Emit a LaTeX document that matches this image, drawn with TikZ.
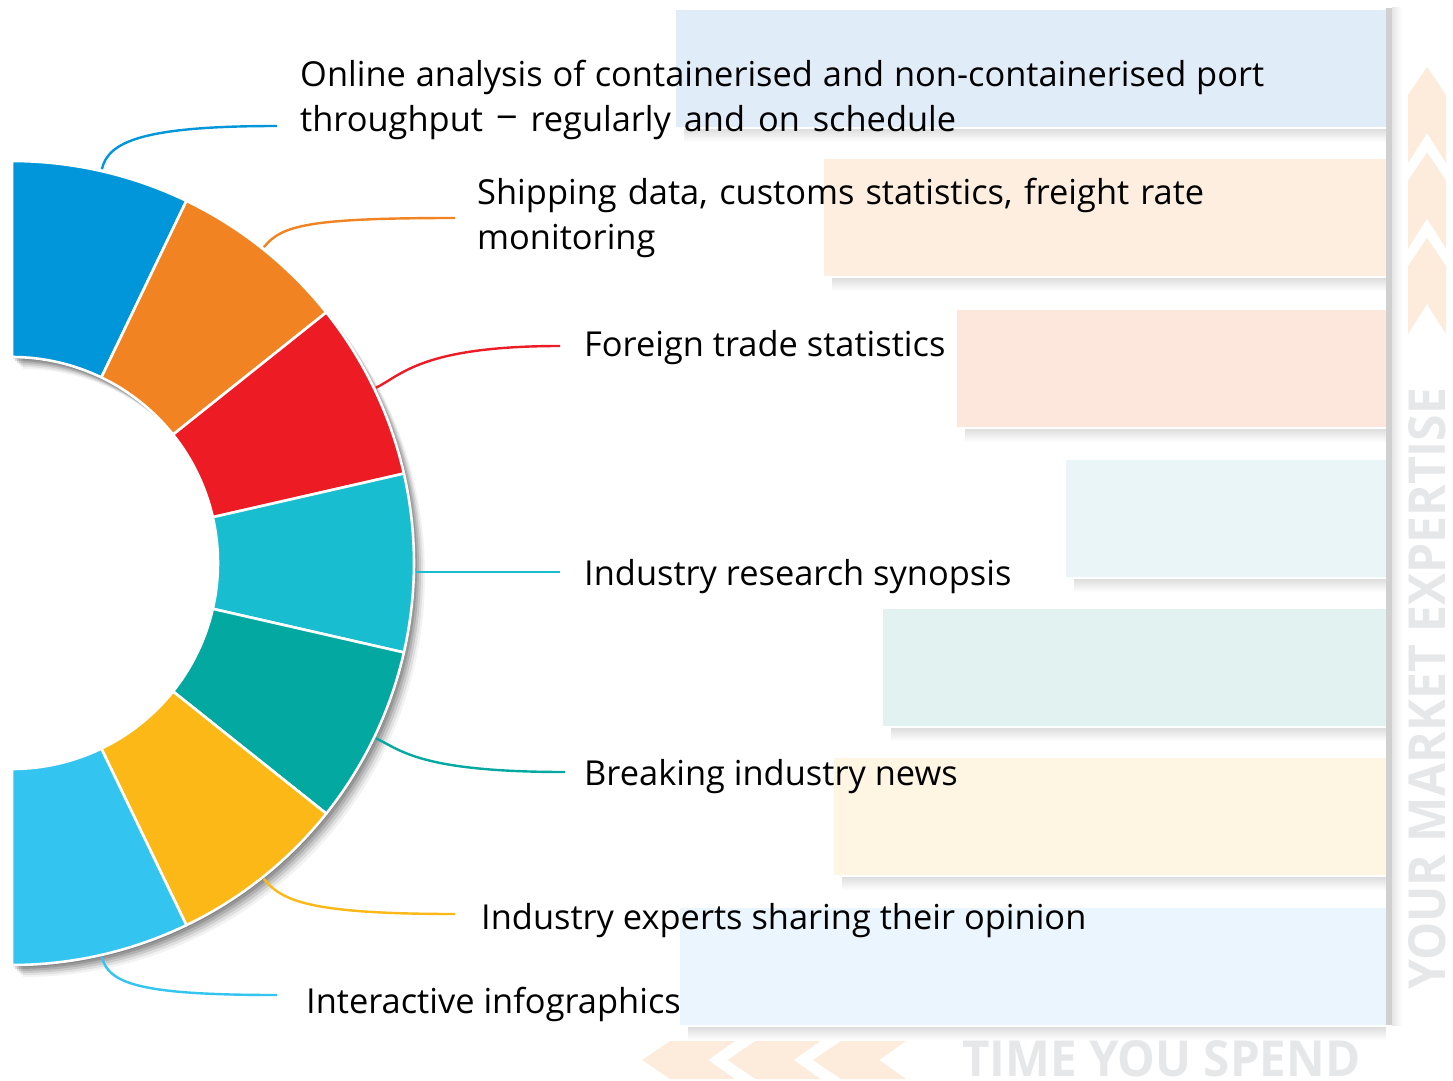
\documentclass[tikz,border=0pt]{standalone}
\usepackage{fontspec}
\setmainfont{Open Sans}
\usetikzlibrary{calc}
\definecolor{cA}{HTML}{0096D9}
\definecolor{cB}{HTML}{F28322}
\definecolor{cC}{HTML}{ED1C24}
\definecolor{cD}{HTML}{18BECF}
\definecolor{cE}{HTML}{03A9A1}
\definecolor{cF}{HTML}{FBB817}
\definecolor{cG}{HTML}{33C4F0}
\definecolor{bA}{HTML}{E0ECF8}
\definecolor{bB}{HTML}{FDEEE0}
\definecolor{bC}{HTML}{FDE7DD}
\definecolor{bD}{HTML}{E9F5F6}
\definecolor{bE}{HTML}{E2F2F1}
\definecolor{bF}{HTML}{FEF5E3}
\definecolor{bG}{HTML}{EAF5FD}
\definecolor{chev}{HTML}{FDECDC}
\definecolor{ghost}{HTML}{E6E7E8}
\definecolor{rail}{HTML}{D0D0D0}
\newcommand\hbarbox[3]{%
  \shade[top color=black!13, bottom color=white] (#1+8,#2+119) rectangle (1386,#2+132);
  \fill[#3] (#1,#2) rectangle (1386,#2+117);
}
\newcommand\upchev[1]{%
  \fill[chev] (1427,#1) -- (1446,#1+28) -- (1446,#1+96) -- (1427,#1+66) -- (1408,#1+96) -- (1408,#1+28) -- cycle;
}
\newcommand\leftchev[1]{%
  \fill[chev] (#1,1060) -- (#1+28,1041) -- (#1+93,1041) -- (#1+66,1060) -- (#1+93,1079) -- (#1+28,1079) -- cycle;
}
\tikzset{
  lbl/.style={anchor=base west, inner sep=0pt, font=\fontsize{34.4}{40}\selectfont, text=black},
  conn/.style={line width=2.4pt},
  seg/.style={draw=white, line width=2.6pt, line join=round}
}
\begin{document}
\begin{tikzpicture}[x=1pt,y=-1pt]
\useasboundingbox (0,0) rectangle (1453,1081);
\fill[white] (0,0) rectangle (1453,1081);
% background bars
\hbarbox{676}{10}{bA}
\hbarbox{824}{159}{bB}
\hbarbox{957}{310}{bC}
\hbarbox{1066}{460}{bD}
\hbarbox{883}{609}{bE}
\hbarbox{834}{758}{bF}
\hbarbox{680}{908}{bG}
\shade[left color=black!10, right color=white] (1392,8) rectangle (1402,1025);
\fill[rail] (1386,8) rectangle (1392,1025);
% chevrons
\upchev{67}
\upchev{152.5}
\upchev{238}
\leftchev{642}
\leftchev{727.5}
\leftchev{813}
% ghost texts
\node[anchor=south west, inner sep=0pt, rotate=90, text=ghost] (yme) at (1446,990)
  {\resizebox{602pt}{37pt}{\bfseries YOUR MARKET EXPERTISE}};
\node[anchor=south west, inner sep=0pt, text=ghost] (tys) at (962,1077)
  {\resizebox{398pt}{36pt}{\bfseries TIME YOU SPEND}};
% donut
\begin{scope}[shift={(12,563)}]
  \foreach \dx/\dy/\op in {1/2/0.14, 3/4/0.14, 5/6/0.12, 7/8/0.10, 9/10/0.07, 11/12/0.05} {
    \fill[black, opacity=\op, shift={(\dx,\dy)}]
      (-90:402) arc[start angle=-90, end angle=90, radius=402]
      -- (90:206) arc[start angle=90, end angle=-90, radius=206] -- cycle;
  }
  \foreach \c [count=\i] in {cA,cB,cC,cD,cE,cF,cG} {
    \pgfmathsetmacro\a{-90+(\i-1)*180/7}
    \pgfmathsetmacro\b{\a+180/7}
    \fill[\c, seg] (\a:206) -- (\a:402) arc[start angle=\a, end angle=\b, radius=402]
      -- (\b:206) arc[start angle=\b, end angle=\a, radius=206] -- cycle;
  }
  \foreach \i in {1,...,7} {
    \pgfmathsetmacro\m{-90+(\i-0.5)*180/7}
    \coordinate (s\i) at (\m:404);
    \coordinate (d\i) at (\m:432);
  }
\end{scope}
% labels
\node[lbl] (t1a) at (300,86) {\makebox[964pt][s]{Online analysis of containerised and non-containerised port}};
\node[lbl] (t1b) at (300,131) {\makebox[656pt][s]{throughput\hspace{13pt}\raisebox{0.12em}{\scalebox{1.25}[1]{--}}\hspace{13pt}regularly and on schedule}};
\node[lbl] (t2a) at (477,204) {\makebox[727pt][s]{Shipping data, customs statistics, freight rate}};
\node[lbl] (t2b) at (477,249) {monitoring};
\node[lbl] (t3) at (584,356) {Foreign trade statistics};
\node[lbl] (t4) at (584,585) {Industry research synopsis};
\node[lbl] (t5) at (584,785) {Breaking industry news};
\node[lbl] (t6) at (481,929) {Industry experts sharing their opinion};
\node[lbl] (t7) at (306,1013) {Interactive infographics};
% connector ends
\coordinate (e1) at (277,126);
\coordinate (e2) at (455,218);
\coordinate (e3) at (560,346);
\coordinate (e4) at (560,572);
\coordinate (e5) at (565,772);
\coordinate (e6) at (455,914);
\coordinate (e7) at (277,995);
\draw[cA, conn] (s1) .. controls (d1) and ($(s1|-e1)+(40,0)$) .. (e1);
\draw[cB, conn] (s2) .. controls (d2) and ($(s2|-e2)+(45,0)$) .. (e2);
\draw[cC, conn] (s3) .. controls (d3) and ($(s3|-e3)+(45,0)$) .. (e3);
\draw[cD, conn] (s4|-e4) -- (e4);
\draw[cE, conn] (s5) .. controls (d5) and ($(s5|-e5)+(45,0)$) .. (e5);
\draw[cF, conn] (s6) .. controls (d6) and ($(s6|-e6)+(45,0)$) .. (e6);
\draw[cG, conn] (s7) .. controls (d7) and ($(s7|-e7)+(40,0)$) .. (e7);
\end{tikzpicture}
\end{document}
